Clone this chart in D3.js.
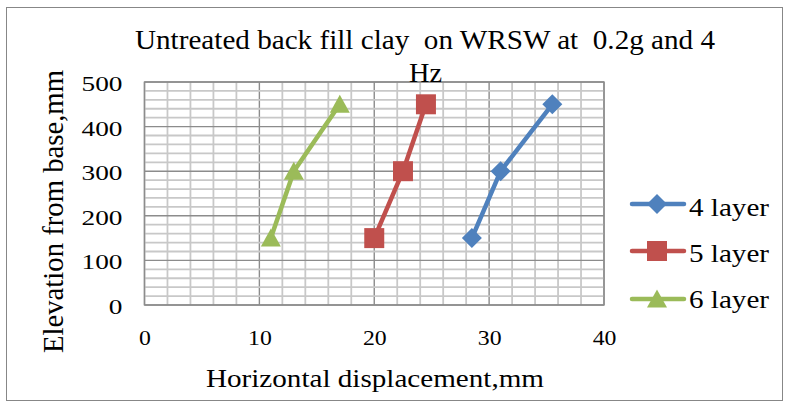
<!DOCTYPE html>
<html><head><meta charset="utf-8">
<script src="https://cdn.jsdelivr.net/npm/d3@7"></script>
<style>body{margin:0;background:#fff}svg{display:block}</style>
</head><body>
<svg id="c" width="787" height="408"></svg>
<script>
const seriesNames = ["4 layer", "5 layer", "6 layer"];
const seriesColors = ["#4f81bd", "#c0504d", "#9bbb59"];
const elevation = [150, 300, 450];
const disp4 = [28.5, 31, 35.5];
const disp5 = [20, 22.5, 24.5];
const disp6 = [11, 13, 17];
const xTicks = [0, 10, 20, 30, 40];
const yTicks = [0, 100, 200, 300, 400, 500];
const titleLines = ["Untreated back fill clay\u00a0 on WRSW at\u00a0 0.2g and 4", "Hz"];

const svg = d3.select("#c");
const font = "\"Liberation Serif\", \"Times New Roman\", Times, serif";
const L = 144.5, R = 604, T = 82, B = 305;
const x = d3.scaleLinear().domain([0, 40]).range([L, R]);
const y = d3.scaleLinear().domain([0, 500]).range([B, T]);

function stretch(sel, k) {
  sel.each(function () {
    const w = this.getComputedTextLength();
    d3.select(this).attr("textLength", w * k).attr("lengthAdjust", "spacingAndGlyphs");
  });
}
function fitTo(sel, w) {
  sel.attr("textLength", w).attr("lengthAdjust", "spacingAndGlyphs");
}

svg.append("rect").attr("x", 6.5).attr("y", 7.5).attr("width", 776).attr("height", 393)
  .attr("fill", "#fff").attr("stroke", "#878787").attr("stroke-width", 1);

// grid
const g = svg.append("g");
d3.range(0, 41, 2).forEach(v => g.append("line").attr("x1", x(v)).attr("x2", x(v)).attr("y1", T).attr("y2", B)
  .attr("stroke", v % 10 === 0 ? "#8c8c8c" : "#c8c8c8").attr("stroke-width", v % 10 === 0 ? 1.4 : 1.8));
d3.range(0, 501, 20).forEach(v => g.append("line").attr("x1", L).attr("x2", R).attr("y1", y(v)).attr("y2", y(v))
  .attr("stroke", v % 100 === 0 ? "#8c8c8c" : "#c8c8c8").attr("stroke-width", v % 100 === 0 ? 1.4 : 1.8));
g.append("rect").attr("x", L).attr("y", T).attr("width", R - L).attr("height", B - T)
  .attr("fill", "none").attr("stroke", "#8c8c8c").attr("stroke-width", 1.4);

// axes labels
const xAxis = d3.axisBottom(x).tickValues(xTicks).tickSize(0).tickPadding(24);
const yAxis = d3.axisLeft(y).tickValues(yTicks).tickSize(0).tickPadding(22);
const gx = svg.append("g").attr("transform", `translate(0,${B})`).call(xAxis)
  .call(a => a.select(".domain").remove());
gx.selectAll("text").style("font-family", font).attr("font-size", 22).attr("fill", "#000")
  .attr("dy", 0).attr("y", 40).call(stretch, 1.08);
const gy = svg.append("g").attr("transform", `translate(${L},0)`).call(yAxis)
  .call(a => a.select(".domain").remove());
gy.selectAll("text").style("font-family", font).attr("font-size", 21).attr("fill", "#000")
  .attr("dy", 0).attr("y", 8.5).call(stretch, 1.3);

const data = [disp4, disp5, disp6];
const tri = "M0,-9.5L10,8.5L-10,8.5Z";
const markerPath = i => i === 0 ? "M0,-10L10,0L0,10L-10,0Z" : i === 1 ? "M-10,-10H10V10H-10Z" : tri;
const line = d3.line().x(d => x(d[0])).y(d => y(d[1]));
data.forEach((ds, i) => {
  const pts = ds.map((v, j) => [v, elevation[j]]);
  svg.append("path").attr("d", line(pts)).attr("fill", "none").attr("stroke", seriesColors[i])
    .attr("stroke-width", 4.5).attr("stroke-linejoin", "round");
  pts.forEach(p => svg.append("path").attr("d", markerPath(i))
    .attr("transform", `translate(${x(p[0])},${y(p[1])})`).attr("fill", seriesColors[i]));
});

// title
svg.append("text").attr("x", 135).attr("y", 49).style("font-family", font).attr("font-size", 27)
  .text(titleLines[0]).call(fitTo, 580);
svg.append("text").attr("x", 409).attr("y", 82).style("font-family", font).attr("font-size", 27)
  .text(titleLines[1]).call(fitTo, 33);
svg.append("text").attr("x", 206).attr("y", 387).style("font-family", font).attr("font-size", 26)
  .text("Horizontal displacement,mm").call(fitTo, 338);
svg.append("text").attr("transform", "translate(63,353) rotate(-90)")
  .style("font-family", font).attr("font-size", 29).text("Elevation from base,mm").call(fitTo, 283);

// legend
const ly = [204, 251, 299];
const lb = [216, 262, 308];
seriesNames.forEach((n, i) => {
  svg.append("line").attr("x1", 632).attr("x2", 684).attr("y1", ly[i]).attr("y2", ly[i])
    .attr("stroke", seriesColors[i]).attr("stroke-width", 4.5).attr("stroke-linecap", "round");
  svg.append("path").attr("d", markerPath(i))
    .attr("transform", `translate(657,${ly[i]})`).attr("fill", seriesColors[i]);
  svg.append("text").attr("x", 689).attr("y", lb[i]).style("font-family", font).attr("font-size", 25)
    .text(n).call(fitTo, 80);
});
</script>
</body></html>
